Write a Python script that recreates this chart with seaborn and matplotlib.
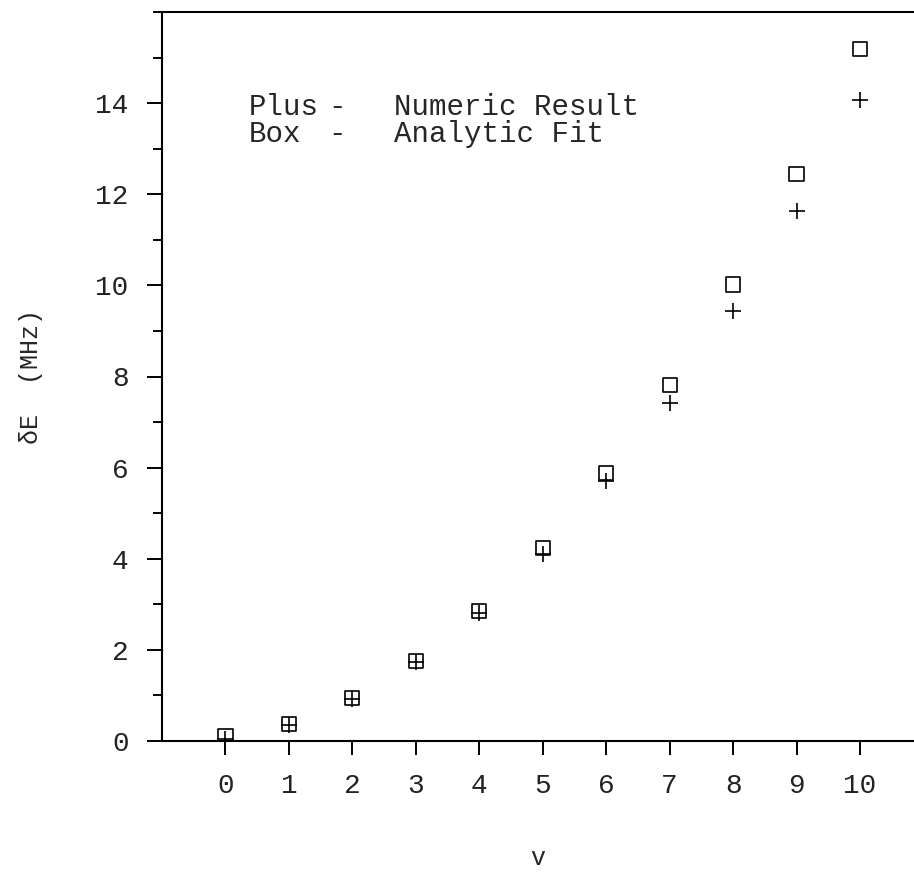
import matplotlib
matplotlib.use("Agg")
import matplotlib.pyplot as plt
from matplotlib.ticker import MultipleLocator
import seaborn as sns
import pandas as pd

# Quantum number v and energy shift (MHz)
v_levels = [0, 1, 2, 3, 4, 5, 6, 7, 8, 9, 10]
numeric_result = [0.05, 0.36, 0.92, 1.73, 2.80, 4.10, 5.71, 7.42, 9.43, 11.64, 14.07]
analytic_fit = [0.10, 0.37, 0.94, 1.75, 2.85, 4.24, 5.89, 7.81, 10.02, 12.45, 15.19]

x_ticks = [0, 1, 2, 3, 4, 5, 6, 7, 8, 9, 10]
y_ticks = [0, 2, 4, 6, 8, 10, 12, 14]

df = pd.DataFrame({"v": v_levels, "numeric": numeric_result, "fit": analytic_fit})

sns.set_theme(style="ticks")
plt.rcParams["font.family"] = ["Liberation Mono", "DejaVu Sans Mono"]

W, H = 914, 873
fig = plt.figure(figsize=(W / 100, H / 100), dpi=100)
ax = fig.add_axes([162 / W, 132 / H, 752 / W, 729 / H])

sns.scatterplot(data=df, x="v", y="fit", marker="s", s=105,
                facecolor="none", edgecolor="black", linewidth=1.2, ax=ax)
sns.scatterplot(data=df, x="v", y="numeric", marker="+", s=140,
                color="black", linewidth=1.2, ax=ax)

ax.set_xlim(-1, 10.85)
ax.set_ylim(0, 16)
ax.set_xticks(x_ticks)
ax.set_xticklabels([str(t) for t in x_ticks])
ax.set_yticks(y_ticks)
ax.yaxis.set_minor_locator(MultipleLocator(1))

for side in ("left", "bottom", "top"):
    ax.spines[side].set_linewidth(1.5)
    ax.spines[side].set_color("black")
ax.spines["right"].set_visible(False)

ax.tick_params(axis="both", which="major", labelsize=20, colors="black",
               labelcolor="#222222", width=1.4)
ax.tick_params(axis="x", which="major", length=10, pad=13)
ax.tick_params(axis="y", which="major", length=11, pad=13)
ax.tick_params(axis="y", which="minor", length=6.5, width=1.4, color="black")
ax.tick_params(axis="x", which="minor", length=0)

ax.set_xlabel("v", fontsize=18, labelpad=34)
ax.set_ylabel("δE  (MHz)", fontsize=18, labelpad=38)

# Legend text block
ax.text(0.36, 13.74, "Plus", fontsize=21, ha="left", va="baseline")
ax.text(1.76, 13.74, "-", fontsize=21, ha="center", va="baseline")
ax.text(2.65, 13.74, "Numeric Result", fontsize=21, ha="left", va="baseline")
ax.text(0.36, 13.15, "Box", fontsize=21, ha="left", va="baseline")
ax.text(1.76, 13.15, "-", fontsize=21, ha="center", va="baseline")
ax.text(2.65, 13.15, "Analytic Fit", fontsize=21, ha="left", va="baseline")

fig.savefig("out.png", dpi=100, facecolor="white")
